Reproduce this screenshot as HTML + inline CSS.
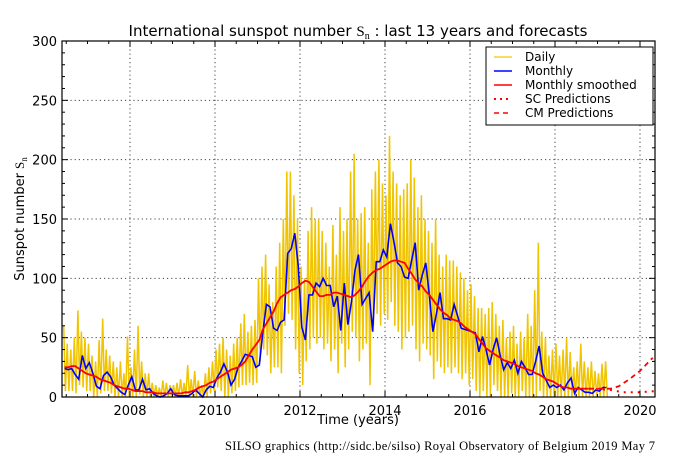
<!DOCTYPE html>
<html><head><meta charset="utf-8"><style>
html,body{margin:0;padding:0;background:#fff;}
svg{display:block;font-family:"DejaVu Sans","Liberation Sans",sans-serif;}
</style></head><body>
<svg id="chart" width="685" height="457" viewBox="0 0 685 457" xmlns="http://www.w3.org/2000/svg">
<text x="358" y="36" font-size="15" text-anchor="middle">International sunspot number <tspan font-family="Liberation Serif,serif">S<tspan font-size="10" dy="3">n</tspan></tspan><tspan dy="-3"> : last 13 years and forecasts</tspan></text>
<g id="grid"></g>
<g id="daily"></g>
<g id="monthly"></g>
<g id="smooth"></g>
<g id="pred"></g>
<rect x="62" y="41" width="593" height="356" fill="none" stroke="#000" stroke-width="1.2"/>
<g id="axes"></g>
<text transform="translate(24,219) rotate(-90)" font-size="13" text-anchor="middle">Sunspot number <tspan font-family="Liberation Serif,serif">S<tspan font-size="9" dy="3">n</tspan></tspan></text>
<text x="358" y="424" font-size="13" text-anchor="middle">Time (years)</text>
<text x="225" y="450" font-size="12.5" textLength="430" lengthAdjust="spacing" font-family="Liberation Serif,serif">SILSO graphics (http://sidc.be/silso)  Royal Observatory of Belgium  2019 May 7</text>
<g>
<rect x="486" y="47" width="167" height="78" fill="#fff" stroke="#000" stroke-width="1"/>
<line x1="494" y1="57" x2="512" y2="57" stroke="#f0c800" stroke-width="1.2"/>
<text x="525" y="61" font-size="12">Daily</text>
<line x1="494" y1="71" x2="512" y2="71" stroke="#0000ff" stroke-width="1.6"/>
<text x="525" y="75" font-size="12">Monthly</text>
<line x1="494" y1="85" x2="512" y2="85" stroke="#ff0000" stroke-width="1.6"/>
<text x="525" y="89" font-size="12">Monthly smoothed</text>
<line x1="494" y1="99" x2="512" y2="99" stroke="#ff0000" stroke-width="2" stroke-dasharray="2,4"/>
<text x="525" y="103" font-size="12">SC Predictions</text>
<line x1="494" y1="113" x2="512" y2="113" stroke="#ff0000" stroke-width="1.6" stroke-dasharray="5,4"/>
<text x="525" y="117" font-size="12">CM Predictions</text>
</g>
</svg>
<script>
const startYear = 2006.46;
const monthly = [24,23,24,19,15,35,24,29,20,9,7,18,21,17,10,7,4,2,10,17,6,6,15,6,7,3,1,0,1,3,7,2,1,1,1,1,3,6,3,0,6,9,8,16,21,28,21,10,15,25,30,36,35,34,25,27,55,78,76,58,56,63,65,121,125,138,110,59,48,86,86,96,93,100,94,94,76,85,56,96,61,80,107,120,78,83,88,55,114,114,124,118,146,131,113,110,101,100,115,130,90,103,113,86,55,70,88,66,66,65,78,68,58,57,56,55,54,38,51,40,27,40,50,35,23,29,24,31,20,30,25,19,19,30,43,20,14,8,10,8,10,6,12,16,3,8,6,4,4,3,6,5,8,8];
const smoothed = [25,25,26,26,24,22,20,19,18,17,15,14,13,12,10,9,8,7,7,6,5,5,5,4,4,4,3,3,3,3,3,3,3,3,4,4,5,6,8,9,10,12,13,15,17,19,21,23,24,25,27,30,35,40,44,48,57,62,67,72,79,84,86,88,90,91,93,96,98,97,93,89,85,85,86,86,88,88,87,86,85,84,86,89,93,98,102,105,107,108,110,112,114,115,115,114,113,108,104,99,96,93,89,86,82,78,74,71,69,66,65,64,62,59,57,55,53,49,45,41,39,37,35,33,31,30,29,28,26,25,24,23,22,20,19,17,15,14,13,11,9,8,8,7,7,7,7,7,7];
const dailyHigh = [60,45,40,50,73,55,50,45,35,30,48,66,40,35,30,25,30,20,51,25,40,60,30,20,20,12,10,8,14,12,10,10,12,15,12,27,15,22,14,10,20,25,30,40,45,50,40,35,45,50,62,70,55,60,65,100,110,120,95,80,110,130,150,190,190,170,150,110,100,140,160,150,150,140,130,110,145,120,160,140,150,190,205,150,155,160,130,175,190,200,180,170,220,190,180,170,175,180,200,185,160,170,150,140,130,150,120,110,120,115,115,110,105,100,90,95,85,75,75,70,75,80,70,60,65,50,55,60,45,55,50,70,60,90,130,55,50,35,40,45,35,40,50,38,25,30,45,30,25,30,22,20,28,30];
const dailyLow = [5,5,5,3,10,8,5,5,0,0,3,5,5,3,0,0,0,0,0,0,0,2,0,0,0,0,0,0,0,0,0,0,0,0,0,0,0,0,0,0,0,3,5,8,5,0,0,3,5,8,10,10,12,10,12,30,40,35,20,25,25,20,60,70,65,40,20,10,30,40,50,45,50,40,45,30,40,20,45,25,40,55,50,30,40,45,10,60,70,60,70,65,80,60,55,40,50,55,60,40,30,45,40,35,15,30,25,20,25,20,25,20,15,20,10,15,5,0,5,0,0,10,5,0,0,0,3,0,0,5,0,0,0,0,5,0,0,0,0,0,0,0,0,0,0,0,0,0,0,0,0,0,0,0];
const cmYears = [2018.8,2019.0,2019.3,2019.5,2019.75,2020.0,2020.3];
const cmValues = [7,7,7,9,15,22,33];
const scYears = [2018.8,2019.3,2019.6,2020.0,2020.35];
const scValues = [7,6,4,4,5];
const xTickYears = [2008,2010,2012,2014,2016,2018,2020];
const yTicks = [0,50,100,150,200,250,300];

const NS='http://www.w3.org/2000/svg';
const L=62,R=655,T=41,B=397;
function X(yr){return 130+(yr-2008)*42.5;}
function Y(v){return B-(v/300)*(B-T);}
function monthYear(i){return startYear+i/12;}
function mk(tag,attrs,parent){const e=document.createElementNS(NS,tag);for(const k in attrs)e.setAttribute(k,attrs[k]);parent.appendChild(e);return e;}

const grid=document.getElementById('grid');
const axes=document.getElementById('axes');
xTickYears.forEach(yr=>{
  const g=mk('line',{x1:X(yr),x2:X(yr),y1:T,y2:B,stroke:'#444','stroke-width':1,'stroke-dasharray':'1.2,3'},grid);
  
  
  const t=mk('text',{x:X(yr),y:B+18,'font-size':13,'text-anchor':'middle'},axes);
  t.textContent=yr;
  
  
});
for(let yr=2006.5;yr<=2020.3;yr+=0.5){
  const x=X(yr);
  mk('line',{x1:x,x2:x,y1:B,y2:B-(yr%2===0?6:3),stroke:'#000'},axes);
  mk('line',{x1:x,x2:x,y1:T,y2:T+(yr%2===0?6:3),stroke:'#000'},axes);
}
for(let v=10;v<300;v+=10){
  mk('line',{x1:L,x2:L+(v%50===0?6:3),y1:Y(v),y2:Y(v),stroke:'#000'},axes);
  mk('line',{x1:R,x2:R-(v%50===0?6:3),y1:Y(v),y2:Y(v),stroke:'#000'},axes);
}
yTicks.forEach(v=>{
  if(v>0&&v<300){
    const g=mk('line',{x1:L,x2:R,y1:Y(v),y2:Y(v),stroke:'#444','stroke-width':1,'stroke-dasharray':'1.2,3'},grid);
    
    
  }
  const t=mk('text',{x:L-5,y:Y(v)+5,'font-size':13,'text-anchor':'end'},axes);
  t.textContent=v;
  
  
});

// daily
let dp=[];
dailyHigh.forEach((h,i)=>{
  dp.push(X(monthYear(i)-0.02).toFixed(1)+','+Y(h).toFixed(1));
  dp.push(X(monthYear(i)+0.02).toFixed(1)+','+Y(dailyLow[i]).toFixed(1));
});
const dl=mk('polyline',{points:dp.join(' '),fill:'none',stroke:'#f0c400','stroke-width':1.5},document.getElementById('daily'));



const ml=mk('polyline',{points:monthly.map((v,i)=>X(monthYear(i)).toFixed(1)+','+Y(v).toFixed(1)).join(' '),fill:'none',stroke:'#0000ff','stroke-width':1.6},document.getElementById('monthly'));



const sl=mk('polyline',{points:smoothed.map((v,i)=>X(monthYear(i)).toFixed(1)+','+Y(v).toFixed(1)).join(' '),fill:'none',stroke:'#ff0000','stroke-width':1.8},document.getElementById('smooth'));



const cl=mk('polyline',{points:cmYears.map((y,i)=>X(y).toFixed(1)+','+Y(cmValues[i]).toFixed(1)).join(' '),fill:'none',stroke:'#ff0000','stroke-width':1.8,'stroke-dasharray':'5,4'},document.getElementById('pred'));


const scl=mk('polyline',{points:scYears.map((y,i)=>X(y).toFixed(1)+','+Y(scValues[i]).toFixed(1)).join(' '),fill:'none',stroke:'#ff0000','stroke-width':2,'stroke-dasharray':'2,5'},document.getElementById('pred'));


</script>
</body></html>
